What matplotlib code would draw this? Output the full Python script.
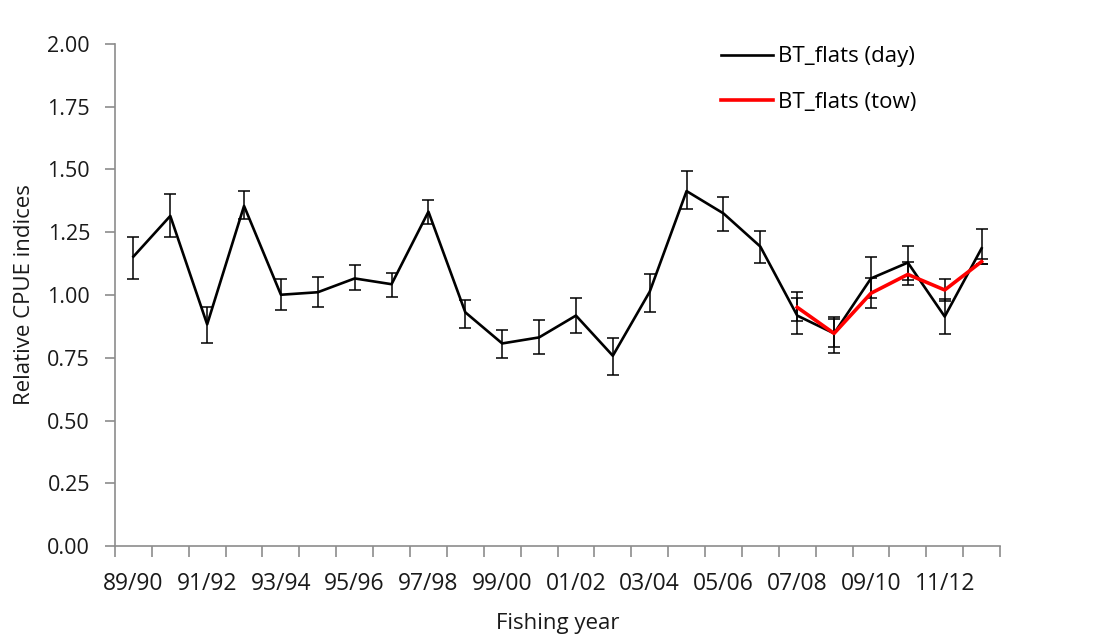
import numpy as np
import matplotlib.pyplot as plt

plt.rcParams['font.family'] = ['Open Sans', 'DejaVu Sans']

years = ['89/90', '90/91', '91/92', '92/93', '93/94', '94/95', '95/96', '96/97',
         '97/98', '98/99', '99/00', '00/01', '01/02', '02/03', '03/04', '04/05',
         '05/06', '06/07', '07/08', '08/09', '09/10', '10/11', '11/12', '12/13']

day = [1.153, 1.315, 0.883, 1.355, 1.001, 1.011, 1.066, 1.043, 1.332, 0.931, 0.807, 0.831,
       0.918, 0.758, 1.013, 1.414, 1.325, 1.193, 0.918, 0.847, 1.066, 1.129, 0.914, 1.186]
day_lo = [1.065, 1.230, 0.810, 1.302, 0.941, 0.952, 1.019, 0.993, 1.284, 0.870, 0.748, 0.764,
          0.850, 0.681, 0.932, 1.341, 1.255, 1.127, 0.846, 0.770, 0.989, 1.060, 0.846, 1.122]
day_hi = [1.232, 1.402, 0.952, 1.416, 1.064, 1.071, 1.120, 1.089, 1.380, 0.981, 0.859, 0.900,
          0.988, 0.829, 1.085, 1.493, 1.390, 1.254, 0.987, 0.914, 1.150, 1.197, 0.984, 1.263]

tow_years = ['07/08', '08/09', '09/10', '10/11', '11/12', '12/13']
tow = [0.951, 0.847, 1.007, 1.082, 1.020, 1.133]
tow_lo = [0.898, 0.794, 0.947, 1.040, 0.976, 1.122]
tow_hi = [1.013, 0.903, 1.069, 1.133, 1.064, 1.145]

x_day = np.arange(len(years))
x_tow = np.array([years.index(y) for y in tow_years])
day = np.array(day)
tow = np.array(tow)

fig = plt.figure(figsize=(11.13, 6.34), dpi=100)
ax = fig.add_axes([0.1033, 0.1388, 0.7952, 0.7918])

# error bars (both black, thin)
ax.errorbar(x_day, day, yerr=[day - np.array(day_lo), np.array(day_hi) - day],
            fmt='none', ecolor='black', elinewidth=1.1, capsize=4.5, capthick=1.1, zorder=2)
ax.errorbar(x_tow, tow, yerr=[tow - np.array(tow_lo), np.array(tow_hi) - tow],
            fmt='none', ecolor='black', elinewidth=1.1, capsize=4.5, capthick=1.1, zorder=2)

ax.plot(x_day, day, color='black', linewidth=1.9, label='BT_flats (day)', zorder=3)
ax.plot(x_tow, tow, color='#ff0000', linewidth=2.6, label='BT_flats (tow)', zorder=4)

ax.set_xlim(-0.5, len(years) - 0.5)
ax.set_ylim(0, 2.0)
ax.set_yticks(np.arange(0, 2.01, 0.25))
ax.set_yticklabels([f'{v:.2f}' for v in np.arange(0, 2.01, 0.25)])

ax.set_xticks(x_day[::2])
ax.set_xticklabels(years[::2])
ax.set_xticks(np.arange(-0.5, len(years), 1), minor=True)

gray = '#8c8c8c'
for side in ['top', 'right']:
    ax.spines[side].set_visible(False)
for side in ['left', 'bottom']:
    ax.spines[side].set_color(gray)
    ax.spines[side].set_linewidth(1.2)

ax.tick_params(axis='y', direction='out', length=7, width=1.2, color=gray,
               labelsize=15.5, pad=11, labelcolor='#1a1a1a')
ax.tick_params(axis='x', which='major', length=0, labelsize=16.5, pad=19, labelcolor='#1a1a1a')
ax.tick_params(axis='x', which='minor', direction='out', length=8, width=1.2, color=gray)

ax.set_xlabel('Fishing year', fontsize=16, labelpad=12, color='#1a1a1a')
ax.set_ylabel('Relative CPUE indices', fontsize=16, labelpad=9, color='#1a1a1a')

ax.legend(loc='upper left', bbox_to_anchor=(0.662, 1.035), frameon=False, fontsize=16,
          handlelength=2.35, handletextpad=0.2, labelspacing=1.1)

plt.savefig('out.png', dpi=100)
